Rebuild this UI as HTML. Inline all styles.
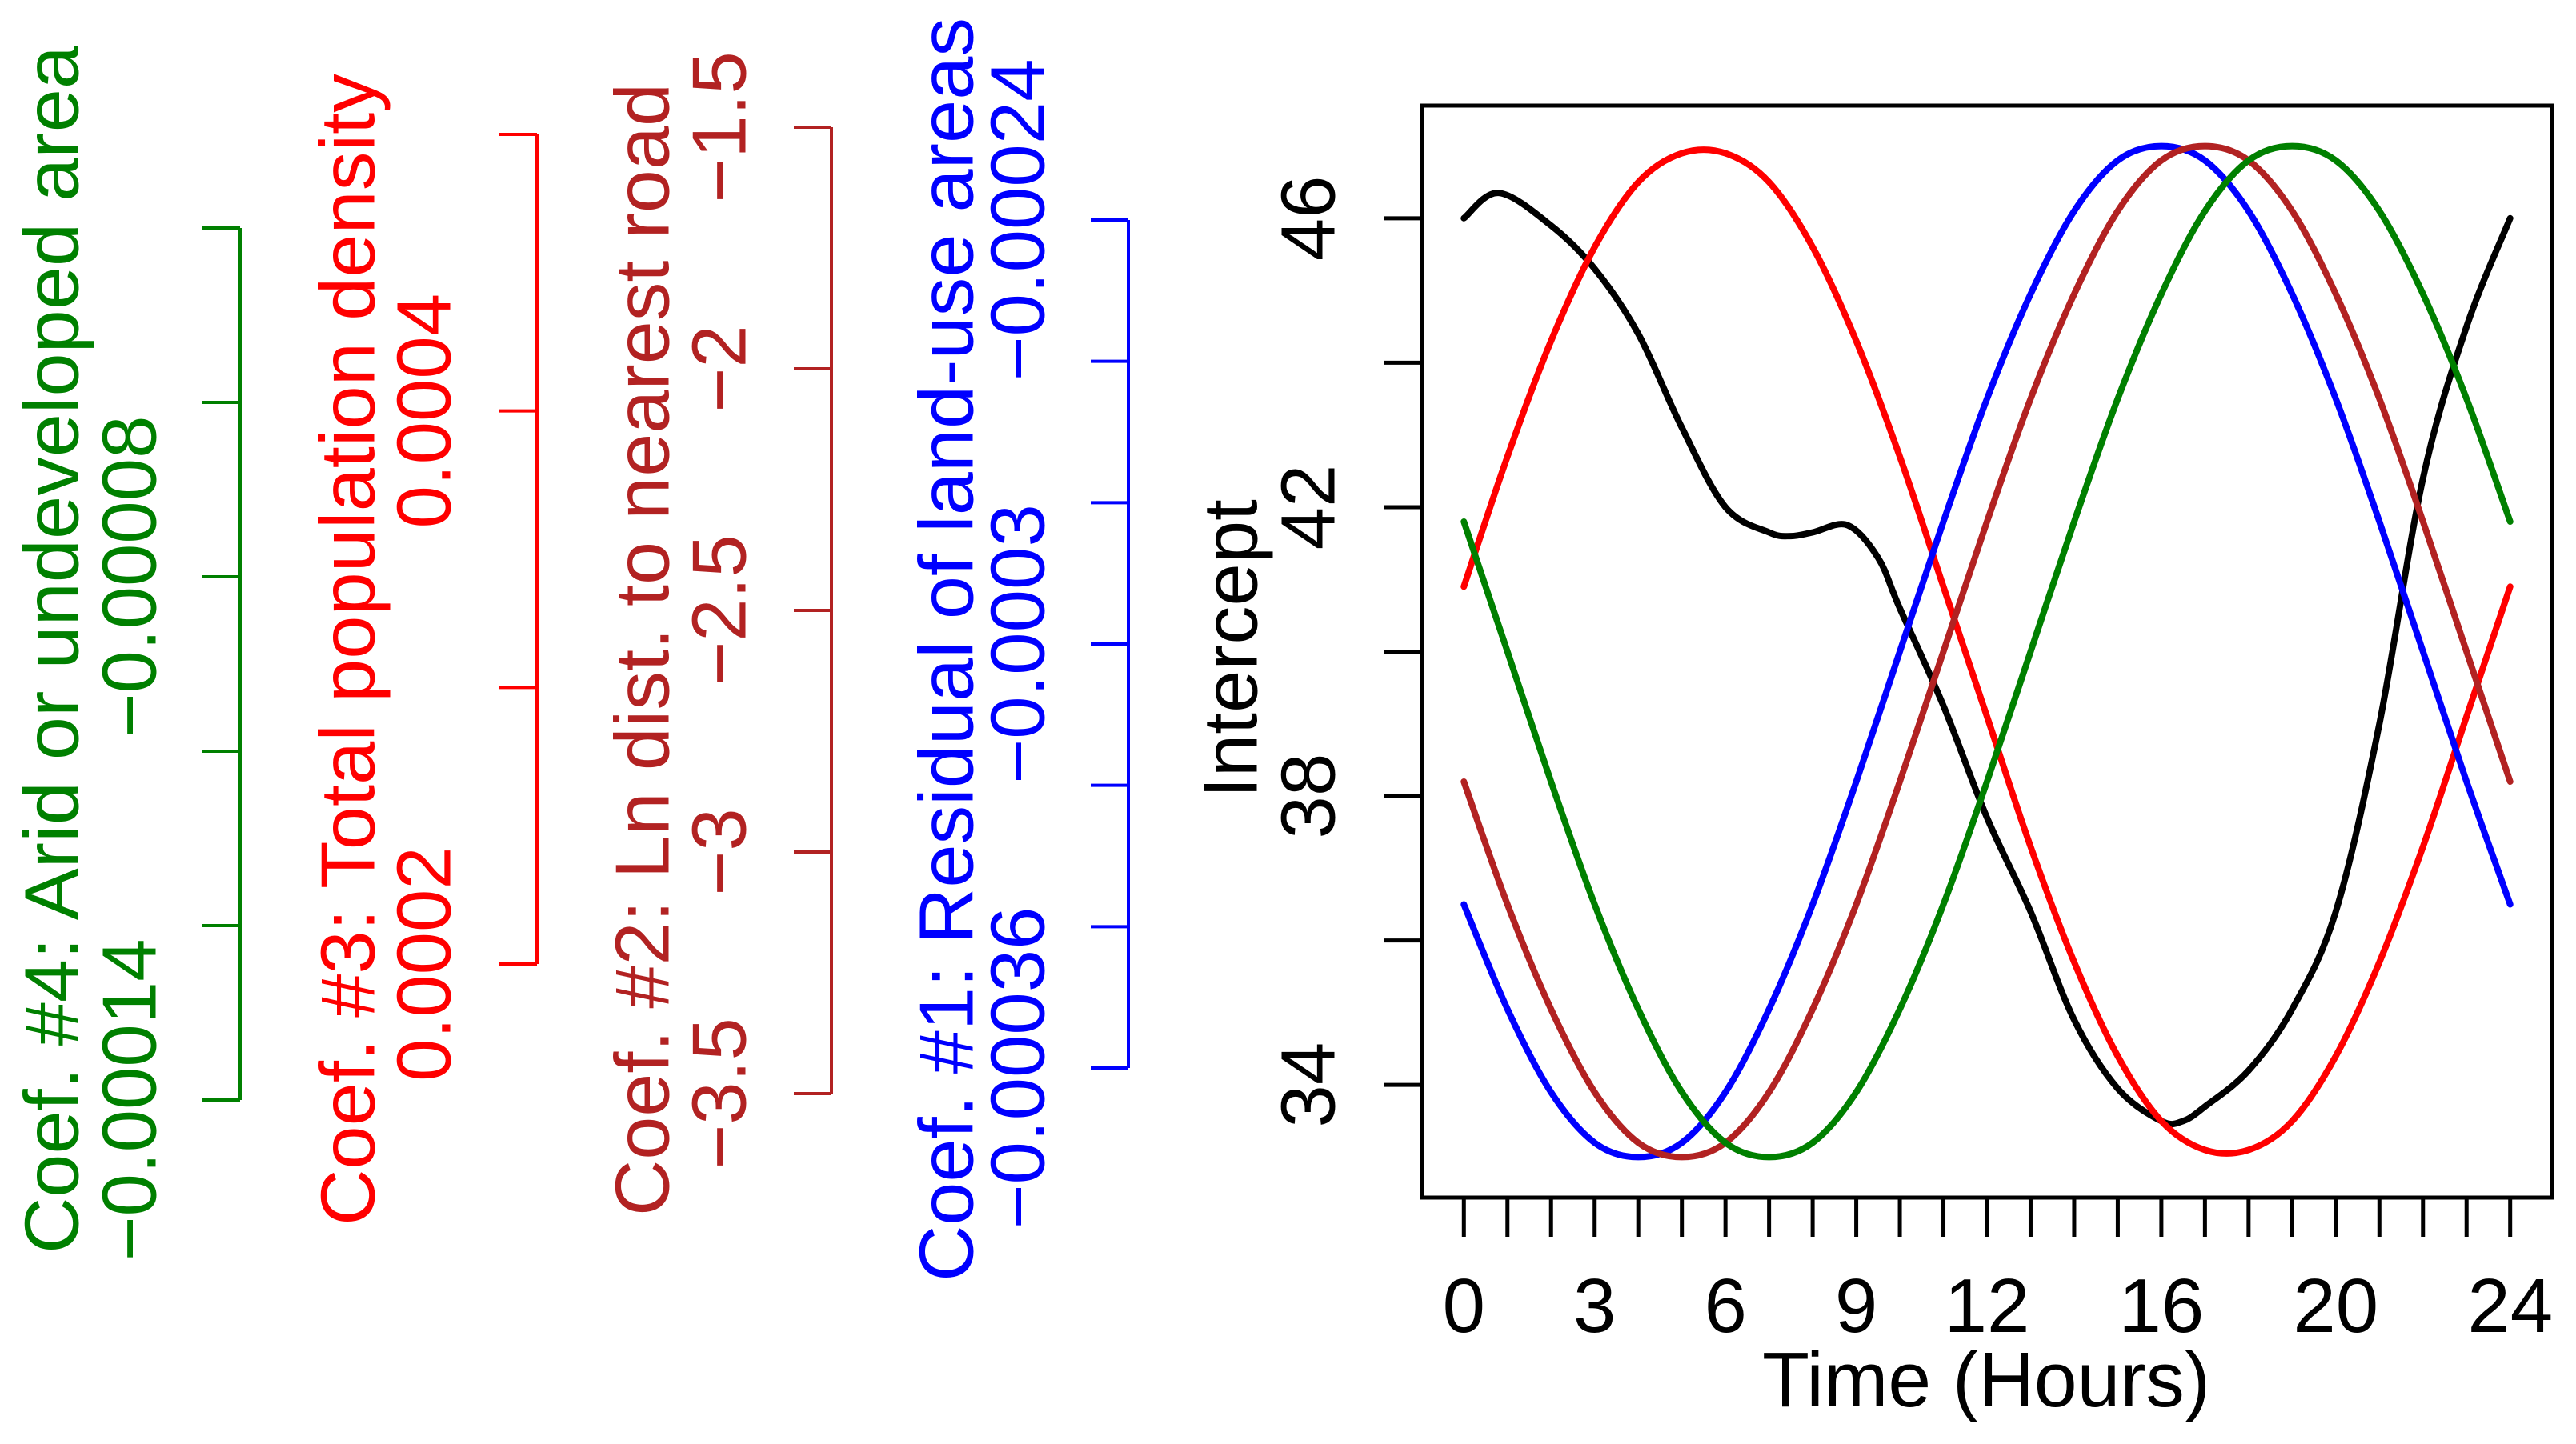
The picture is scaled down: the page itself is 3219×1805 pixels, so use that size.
<!DOCTYPE html>
<html><head><meta charset="utf-8"><style>
html,body{margin:0;padding:0;background:#fff;}
svg{display:block;font-family:"Liberation Sans",Arial,sans-serif;}
</style></head><body>
<svg id="chart" width="3219" height="1805" viewBox="0 0 3219 1805" xmlns="http://www.w3.org/2000/svg">
<rect x="0" y="0" width="3219" height="1805" fill="#fff"/>
<g id="curves"></g>
<g id="axes"></g>
</svg>
<script>
// ---- data ----
const hours = [0,1,2,3,4,5,6,7,8,9,10,11,12,13,14,15,16,17,18,19,20,21,22,23,24];
const coef1Blue = [36.5,35.05,33.9,33.2,33.0,33.2,33.9,35.05,36.5,38.2,40,41.8,43.5,44.95,46.1,46.8,47,46.8,46.1,44.95,43.5,41.8,40,38.2,36.5];
const coef2Brown = [38.2,36.5,35.05,33.9,33.2,33.0,33.2,33.9,35.05,36.5,38.2,40,41.8,43.5,44.95,46.1,46.8,47,46.8,46.1,44.95,43.5,41.8,40,38.2];
const coef3Red = [40.9,42.7,44.3,45.6,46.5,46.9,46.9,46.5,45.6,44.3,42.7,40.9,39.1,37.3,35.7,34.4,33.5,33.1,33.1,33.5,34.4,35.7,37.3,39.1,40.9];
const coef4Green = [41.8,40,38.2,36.5,35.05,33.9,33.2,33.0,33.2,33.9,35.05,36.5,38.2,40,41.8,43.5,44.95,46.1,46.8,47,46.8,46.1,44.95,43.5,41.8];
const interceptHours = [0,0.8,2,3,4,5,6,7,7.5,8,8.8,9.5,10,11,12,13,14,15,16,16.5,17,18,19,20,21,22,23,24];
const interceptValues = [46.0,46.35,45.9,45.3,44.4,43.1,42.0,41.65,41.6,41.65,41.75,41.3,40.6,39.25,37.7,36.4,34.9,33.95,33.5,33.5,33.7,34.2,35.05,36.4,39.0,42.4,44.5,46.0];
const xTickHours = [0,1,2,3,4,5,6,7,8,9,10,11,12,13,14,15,16,17,18,19,20,21,22,23,24];
const xTickLabels = ["0","3","6","9","12","16","20","24"];
const yTicks = [34,36,38,40,42,44,46];
const yTickLabels = ["34","38","42","46"];
const coef4Ticks = [-0.00014,-0.00012,-0.0001,-0.00008,-0.00006,-0.00004];
const coef4Labels = ["-0.00014","-0.00008"];
const coef3Ticks = [0.0002,0.0003,0.0004,0.0005];
const coef3Labels = ["0.0002","0.0004"];
const coef2Ticks = [-3.5,-3,-2.5,-2,-1.5];
const coef2Labels = ["-3.5","-3","-2.5","-2","-1.5"];
const coef1Ticks = [-0.00036,-0.00034,-0.00032,-0.0003,-0.00028,-0.00026,-0.00024];
const coef1Labels = ["-0.00036","-0.0003","-0.00024"];

// ---- scales ----
const NS="http://www.w3.org/2000/svg";
const box={l:1777,r:3189,t:132,b:1497};
const xMin=-0.96, xMax=24.96, yMin=32.44, yMax=47.56;
function sx(t){return box.l+(t-xMin)/(xMax-xMin)*(box.r-box.l);}
function sy(v){return box.b-(v-yMin)/(yMax-yMin)*(box.b-box.t);}
function mk(tag,attrs,parent){const e=document.createElementNS(NS,tag);for(const k in attrs)e.setAttribute(k,attrs[k]);parent.appendChild(e);return e;}
function smoothPath(xs,ys){
  const p=xs.map((x,i)=>[sx(x),sy(ys[i])]);
  let d="M"+p[0][0].toFixed(1)+","+p[0][1].toFixed(1);
  for(let i=0;i<p.length-1;i++){
    const p0=p[Math.max(0,i-1)],p1=p[i],p2=p[i+1],p3=p[Math.min(p.length-1,i+2)];
    const c1=[p1[0]+(p2[0]-p0[0])/6,p1[1]+(p2[1]-p0[1])/6];
    const c2=[p2[0]-(p3[0]-p1[0])/6,p2[1]-(p3[1]-p1[1])/6];
    d+=" C"+c1[0].toFixed(1)+","+c1[1].toFixed(1)+" "+c2[0].toFixed(1)+","+c2[1].toFixed(1)+" "+p2[0].toFixed(1)+","+p2[1].toFixed(1);
  }
  return d;
}
const curves=document.getElementById('curves');
const axes=document.getElementById('axes');
const FS=96;

// box
let el=mk('rect',{x:box.l,y:box.t,width:box.r-box.l,height:box.b-box.t,fill:'none',stroke:'#000','stroke-width':5},axes);



// series
const series=[
  {name:'intercept-line',xs:interceptHours,ys:interceptValues,c:'#000000'},
  {name:'coef3-line',xs:hours,ys:coef3Red,c:'#ff0000'},
  {name:'coef1-line',xs:hours,ys:coef1Blue,c:'#0000ff'},
  {name:'coef2-line',xs:hours,ys:coef2Brown,c:'#b22222'},
  {name:'coef4-line',xs:hours,ys:coef4Green,c:'#008000'}
];
series.forEach(s=>{
  const p=mk('path',{d:smoothPath(s.xs,s.ys),fill:'none',stroke:s.c,'stroke-width':8,'stroke-linecap':'round','stroke-linejoin':'round'},curves);
  
  
});

// x axis
xTickHours.forEach(h=>{
  const t=mk('line',{x1:sx(h),x2:sx(h),y1:box.b,y2:1546,stroke:'#000','stroke-width':5},axes);
  
  
});
xTickLabels.forEach(lb=>{
  const t=mk('text',{x:sx(+lb),y:1665,'text-anchor':'middle','font-size':FS,fill:'#000'},axes);
  t.textContent=lb;
  
  
});
el=mk('text',{x:2482,y:1758,'text-anchor':'middle','font-size':97,fill:'#000',textLength:560,lengthAdjust:'spacingAndGlyphs'},axes);
el.textContent='Time (Hours)';



// y axis
yTicks.forEach(v=>{
  const t=mk('line',{x1:1729,x2:box.l,y1:sy(v),y2:sy(v),stroke:'#000','stroke-width':5},axes);
  
  
});
function vtext(cx,cy,str,color,size,name,len){
  const attrs={x:0,y:0,'text-anchor':'middle','font-size':size,fill:color,transform:'translate('+(cx+0.36*size)+','+cy+') rotate(-90)'};
  if(len){attrs.textLength=len;attrs.lengthAdjust='spacingAndGlyphs';}
  const t=mk('text',attrs,axes);
  t.textContent=str.replace(/-/g,'\u2212');
  if(name==='coef-title') t.textContent=str;
  return t;
}
yTickLabels.forEach(lb=>{
  const t=vtext(1633,sy(+lb),lb,'#000',FS,'y');
  
  
});
el=vtext(1536,811,'Intercept','#000',FS,'coef-title');



// coefficient axes
const coefAxes=[
  {name:'coef4',ticks:coef4Ticks,labels:coef4Labels,c:'#008000',lineX:300,tickX:253,yTop:285,yBot:1375,labX:160,titX:63,title:'Coef. #4: Arid or undeveloped area',len:1510},
  {name:'coef3',ticks:coef3Ticks,labels:coef3Labels,c:'#ff0000',lineX:671,tickX:624,yTop:168,yBot:1205,labX:528,titX:433,title:'Coef. #3: Total population density',len:1440},
  {name:'coef2',ticks:coef2Ticks,labels:coef2Labels,c:'#b22222',lineX:1039,tickX:992,yTop:159,yBot:1367,labX:897,titX:801,title:'Coef. #2: Ln dist. to nearest road',len:1416},
  {name:'coef1',ticks:coef1Ticks,labels:coef1Labels,c:'#0000ff',lineX:1410,tickX:1363,yTop:275,yBot:1335,labX:1270,titX:1181,title:'Coef. #1: Residual of land-use areas',len:1580}
];
coefAxes.forEach(a=>{
  const lo=a.ticks[0],hi=a.ticks[a.ticks.length-1];
  const ay=v=>a.yBot-(v-lo)/(hi-lo)*(a.yBot-a.yTop);
  const ln=mk('line',{x1:a.lineX,x2:a.lineX,y1:a.yTop,y2:a.yBot,stroke:a.c,'stroke-width':4},axes);
  
  
  a.ticks.forEach(v=>{
    const t=mk('line',{x1:a.tickX,x2:a.lineX,y1:ay(v),y2:ay(v),stroke:a.c,'stroke-width':4},axes);
    
    
  });
  a.labels.forEach(lb=>{
    const t=vtext(a.labX,ay(parseFloat(lb)),lb,a.c,FS,'lab');
    
    
  });
  const tt=vtext(a.titX,812,a.title,a.c,FS,'coef-title',a.len);
  
  
});
</script>
</body></html>
